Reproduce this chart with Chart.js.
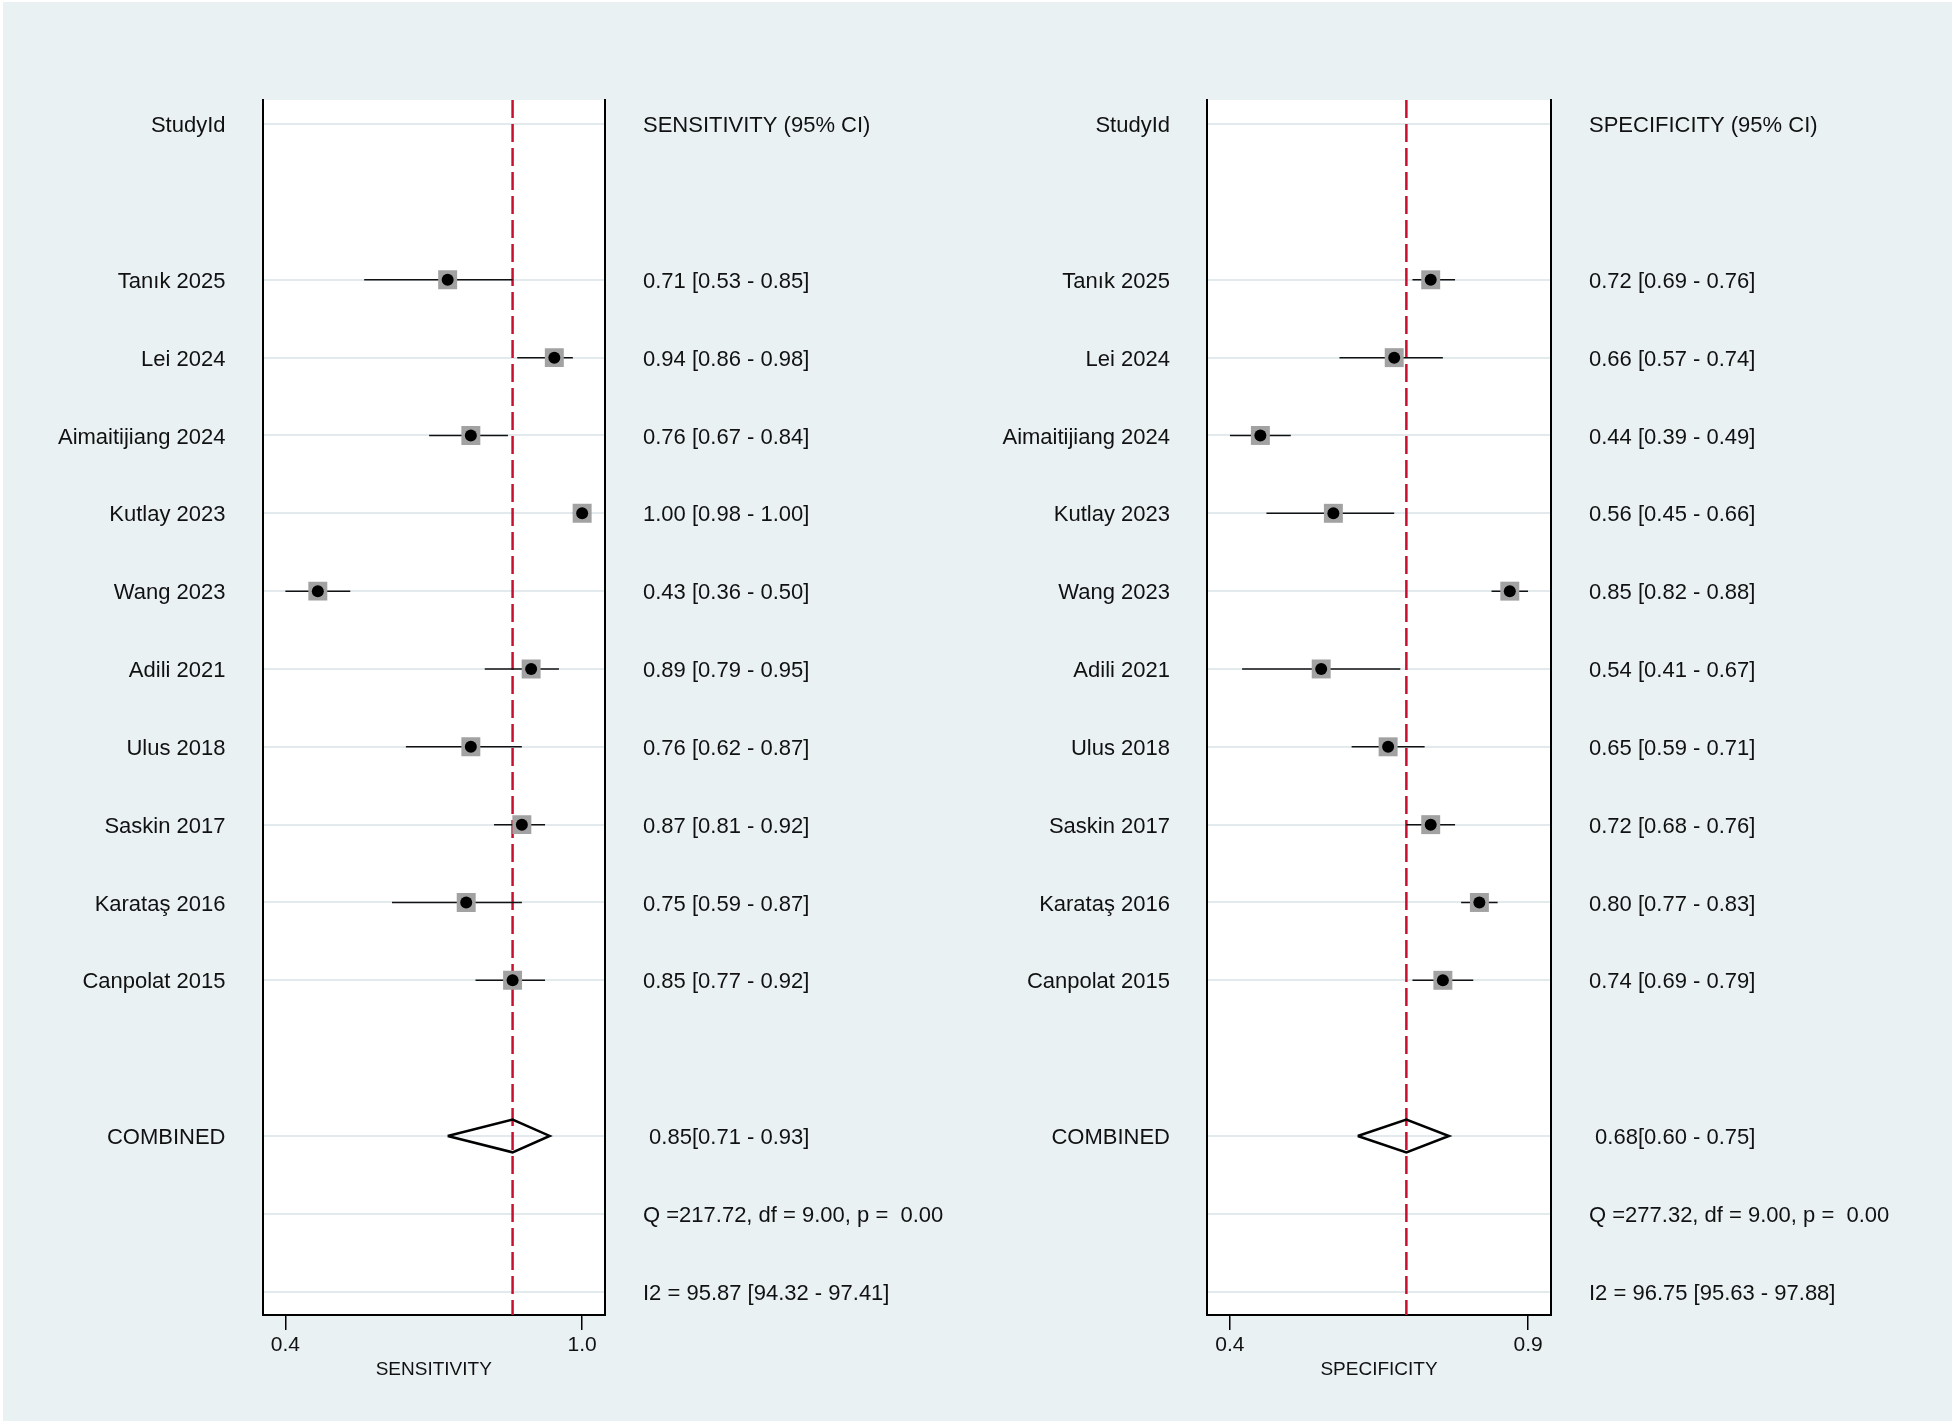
<!DOCTYPE html>
<html>
<head>
<meta charset="utf-8">
<script src="https://cdn.jsdelivr.net/npm/chart.js@4.4.1/dist/chart.umd.min.js"></script>
<style>
    html, body { margin: 0; padding: 0; background: #ffffff; }
    #page { position: absolute; left: 3px; top: 2px; width: 1949px; height: 1419px; background: #e9f1f3; }
    canvas { position: absolute; left: 0; top: 0; }
</style>
</head>
<body>
<div id="page"></div>
<canvas id="sens-chart" width="1955" height="1423"></canvas>
<canvas id="spec-chart" width="1955" height="1423"></canvas>
<script>
// ==========================================
// STUDY DATA
// ==========================================
const studies = ['Tanık 2025', 'Lei 2024', 'Aimaitijiang 2024', 'Kutlay 2023', 'Wang 2023',
                 'Adili 2021', 'Ulus 2018', 'Saskin 2017', 'Karataş 2016', 'Canpolat 2015'];

// sensitivity: estimate, lower and upper 95% CI
const sensEst = [0.71, 0.94, 0.76, 1.00, 0.43, 0.89, 0.76, 0.87, 0.75, 0.85];
const sensLo  = [0.53, 0.86, 0.67, 0.98, 0.36, 0.79, 0.62, 0.81, 0.59, 0.77];
const sensHi  = [0.85, 0.98, 0.84, 1.00, 0.50, 0.95, 0.87, 0.92, 0.87, 0.92];

// specificity: estimate, lower and upper 95% CI
const specEst = [0.72, 0.66, 0.44, 0.56, 0.85, 0.54, 0.65, 0.72, 0.80, 0.74];
const specLo  = [0.69, 0.57, 0.39, 0.45, 0.82, 0.41, 0.59, 0.68, 0.77, 0.69];
const specHi  = [0.76, 0.74, 0.49, 0.66, 0.88, 0.67, 0.71, 0.76, 0.83, 0.79];

// pooled [estimate, lower, upper]
const sensPooled = [0.85, 0.71, 0.93];
const specPooled = [0.68, 0.60, 0.75];

// heterogeneity lines
const sensStats = ['Q =217.72, df = 9.00, p =  0.00', 'I2 = 95.87 [94.32 - 97.41]'];
const specStats = ['Q =277.32, df = 9.00, p =  0.00', 'I2 = 96.75 [95.63 - 97.88]'];

// ==========================================
// ROW LAYOUT (row index on the y scale)
// ==========================================
const headerRow   = 0;
const firstRow    = 2;
const combinedRow = firstRow + studies.length + 1;
const qRow        = combinedRow + 1;
const i2Row       = combinedRow + 2;
const yMin = headerRow - 0.31;
const yMax = i2Row + 0.30;

Chart.defaults.font.family = "'Liberation Sans', Arial, sans-serif";
Chart.defaults.color = '#111111';

const fmt = v => v.toFixed(2);

// ==========================================
// BUILD ONE FOREST PANEL
// ==========================================
function drawForest(canvasId, est, lo, hi, pooled, stats, header, title, plotLeft, plotRight) {
    const tickLo = Math.min(...lo);
    const tickHi = Math.max(...hi);
    const span   = tickHi - tickLo;
    const xMin   = tickLo - span * 0.077;
    const xMax   = tickHi + span * 0.077;

    // row labels on both sides
    const leftText  = { [headerRow]: 'StudyId' };
    const rightText = { [headerRow]: header };
    studies.forEach((s, i) => {
        leftText[firstRow + i]  = s;
        rightText[firstRow + i] = `${fmt(est[i])} [${fmt(lo[i])} - ${fmt(hi[i])}]`;
    });
    leftText[combinedRow]  = 'COMBINED';
    rightText[combinedRow] = ` ${fmt(pooled[0])}[${fmt(pooled[1])} - ${fmt(pooled[2])}]`;
    leftText[qRow]  = '';  rightText[qRow]  = stats[0];
    leftText[i2Row] = '';  rightText[i2Row] = stats[1];
    const labelRows = Object.keys(rightText).map(Number).sort((a, b) => a - b);

    const pts = arr => arr.map((v, i) => ({ x: v, y: firstRow + i }));

    const datasets = [
        // pooled reference line
        {
            data: [{ x: pooled[0], y: yMin }, { x: pooled[0], y: yMax }],
            showLine: true, borderColor: '#c8102e', borderWidth: 2.5, borderDash: [18, 6],
            pointRadius: 0, order: 6
        },
        // confidence interval lines
        ...studies.map((s, i) => ({
            data: [{ x: lo[i], y: firstRow + i }, { x: hi[i], y: firstRow + i }],
            showLine: true, borderColor: '#111111', borderWidth: 1.5, pointRadius: 0, order: 5
        })),
        // pooled diamond
        {
            data: [
                { x: pooled[1], y: combinedRow },
                { x: pooled[0], y: combinedRow - 0.21 },
                { x: pooled[2], y: combinedRow },
                { x: pooled[0], y: combinedRow + 0.21 },
                { x: pooled[1], y: combinedRow }
            ],
            showLine: true, borderColor: '#000000', borderWidth: 2.5, borderJoinStyle: 'miter',
            pointRadius: 0, order: 4
        },
        // grey weight boxes
        {
            data: pts(est), pointStyle: 'rect', pointRadius: 13.4,
            backgroundColor: '#a2a2a2', borderWidth: 0, order: 3
        },
        // point estimates
        {
            data: pts(est), pointStyle: 'circle', pointRadius: 6,
            backgroundColor: '#000000', borderWidth: 0, order: 2
        }
    ];

    const whiteArea = {
        id: 'whiteArea',
        beforeDraw(chart) {
            const a = chart.chartArea;
            chart.ctx.save();
            chart.ctx.fillStyle = '#ffffff';
            chart.ctx.fillRect(a.left, a.top, a.right - a.left, a.bottom - a.top);
            chart.ctx.restore();
        }
    };

    return new Chart(document.getElementById(canvasId), {
        type: 'scatter',
        data: { datasets },
        plugins: [whiteArea],
        options: {
            responsive: false,
            animation: false,
            events: [],
            layout: { padding: { top: 100, left: 0, right: 0, bottom: 0 } },
            plugins: { legend: { display: false }, tooltip: { enabled: false } },
            elements: { line: { tension: 0, fill: false } },
            scales: {
                x: {
                    type: 'linear', min: xMin, max: xMax,
                    afterBuildTicks: s => { s.ticks = [{ value: tickLo }, { value: tickHi }]; },
                    afterFit: s => { s.height = 108; },
                    ticks: { callback: v => Number(v).toFixed(1), font: { size: 21 }, padding: 3, maxRotation: 0 },
                    grid: { drawOnChartArea: false, drawTicks: true, tickLength: 15, color: '#000000', lineWidth: 1.5 },
                    border: { display: true, color: '#000000', width: 2 },
                    title: { display: true, text: title, font: { size: 19 }, padding: { top: 0, bottom: 42 } }
                },
                y: {
                    type: 'linear', position: 'left', reverse: true, min: yMin, max: yMax,
                    afterBuildTicks: s => { s.ticks = labelRows.map(v => ({ value: v })); },
                    afterFit: s => { s.width = plotLeft; },
                    ticks: { callback: v => leftText[v], font: { size: 22 }, padding: 37, labelOffset: 2, autoSkip: false },
                    grid: { drawTicks: false, color: '#e2eaee', lineWidth: 2 },
                    border: { display: true, color: '#000000', width: 2 }
                },
                y2: {
                    type: 'linear', position: 'right', reverse: true, min: yMin, max: yMax,
                    afterBuildTicks: s => { s.ticks = labelRows.map(v => ({ value: v })); },
                    afterFit: s => { s.width = 1955 - plotRight; },
                    ticks: { callback: v => rightText[v], font: { size: 22 }, padding: 38, labelOffset: 2, autoSkip: false },
                    grid: { display: false, drawTicks: false },
                    border: { display: true, color: '#000000', width: 2 }
                }
            }
        }
    });
}

drawForest('sens-chart', sensEst, sensLo, sensHi, sensPooled, sensStats,
           'SENSITIVITY (95% CI)', 'SENSITIVITY', 262.5, 605);
drawForest('spec-chart', specEst, specLo, specHi, specPooled, specStats,
           'SPECIFICITY (95% CI)', 'SPECIFICITY', 1207, 1551);
</script>
</body>
</html>
